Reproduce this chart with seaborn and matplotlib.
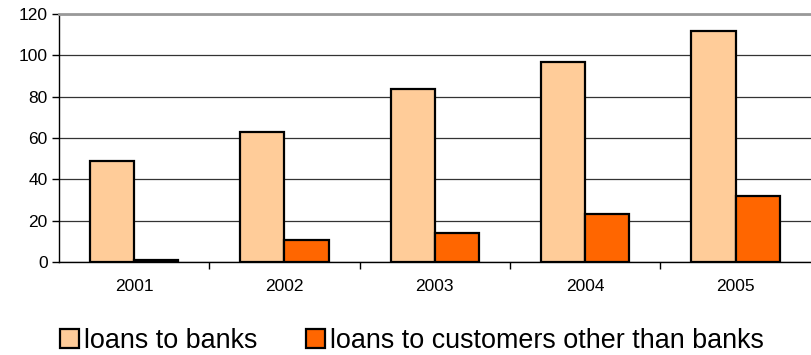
import matplotlib
matplotlib.use("Agg")
import matplotlib.pyplot as plt
import seaborn as sns
import pandas as pd

years = ["2001", "2002", "2003", "2004", "2005"]
loans_banks = [49, 63, 83.5, 96.5, 111.5]
loans_other = [1, 10.5, 14, 23, 32]
series_names = ["loans to banks", "loans to customers other than banks"]
colors = ["#FFCC99", "#FF6600"]

df = pd.DataFrame({
    "year": years * 2,
    "value": loans_banks + loans_other,
    "series": [series_names[0]] * len(years) + [series_names[1]] * len(years),
})

sns.set_style("white")
plt.rcParams['font.family'] = ['Liberation Sans', 'DejaVu Sans']
plt.rcParams['text.color'] = 'black'
plt.rcParams['xtick.color'] = 'black'
plt.rcParams['ytick.color'] = 'black'

fig = plt.figure(figsize=(8.11, 3.55), dpi=100)
ax = fig.add_axes([0.0727, 0.262, 0.927, 0.699])

sns.barplot(data=df, x="year", y="value", hue="series", palette=colors, saturation=1,
            width=0.587, edgecolor="black", linewidth=1.6, ax=ax, legend=True)

ax.set_ylim(0, 120)
ax.set_xlim(-0.5, 4.5)
ax.set_yticks(range(0, 121, 20))
ax.yaxis.grid(True, color="#333333", linewidth=0.9)
ax.set_axisbelow(True)
ax.set_xlabel("")
ax.set_ylabel("")
for s in ["left", "bottom"]:
    ax.spines[s].set_visible(True)
    ax.spines[s].set_color("black")
    ax.spines[s].set_linewidth(1.0)
ax.spines["right"].set_visible(False)
ax.spines["top"].set_visible(True)
ax.spines["top"].set_color("#999999")
ax.spines["top"].set_linewidth(2)

ax.tick_params(axis="y", which="both", left=True, length=5, width=1, color="black",
               labelcolor="black", labelsize=12.5, pad=3)
ax.set_xticks([0.5, 1.5, 2.5, 3.5], minor=True)
ax.tick_params(axis="x", which="major", bottom=False, labelcolor="black", labelsize=12.5, pad=9)
ax.tick_params(axis="x", which="minor", bottom=True, length=5, width=1, color="black")

handles, labels = ax.get_legend_handles_labels()
ax.get_legend().remove()
fig.legend(handles, labels, loc="center", bbox_to_anchor=(0.508, 0.04), ncol=2,
           frameon=False, fontsize=19.4, handlelength=0.7, handleheight=0.7,
           handletextpad=0.2, columnspacing=1.8, labelcolor="black")

fig.savefig("out.png", dpi=100)
